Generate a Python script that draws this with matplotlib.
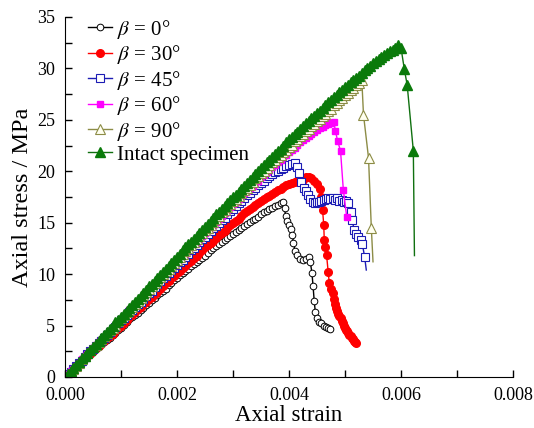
import matplotlib.pyplot as plt

plt.rcParams['font.family'] = ['Liberation Serif', 'DejaVu Serif']
plt.rcParams['mathtext.fontset'] = 'stix'

# strain grid for the loading (pre-peak) branch, shared by all curves
strain_rise = [0.00000, 0.00005, 0.00010, 0.00015, 0.00020, 0.00025, 0.00030, 0.00035, 0.00040, 0.00045,
               0.00050, 0.00055, 0.00060, 0.00065, 0.00070, 0.00075, 0.00080, 0.00085, 0.00090, 0.00095,
               0.00100, 0.00105, 0.00110, 0.00115, 0.00120, 0.00125, 0.00130, 0.00135, 0.00140, 0.00145,
               0.00150, 0.00155, 0.00160, 0.00165, 0.00170, 0.00175, 0.00180, 0.00185, 0.00190, 0.00195,
               0.00200, 0.00205, 0.00210, 0.00215, 0.00220, 0.00225, 0.00230, 0.00235, 0.00240, 0.00245,
               0.00250, 0.00255, 0.00260, 0.00265, 0.00270, 0.00275, 0.00280, 0.00285, 0.00290, 0.00295,
               0.00300, 0.00305, 0.00310, 0.00315, 0.00320, 0.00325, 0.00330, 0.00335, 0.00340, 0.00345,
               0.00350, 0.00355, 0.00360, 0.00365, 0.00370, 0.00375, 0.00380, 0.00385, 0.00390, 0.00395,
               0.00400, 0.00405, 0.00410, 0.00415, 0.00420, 0.00425, 0.00430, 0.00435, 0.00440, 0.00445,
               0.00450, 0.00455, 0.00460, 0.00465, 0.00470, 0.00475, 0.00480, 0.00485, 0.00490, 0.00495,
               0.00500, 0.00505, 0.00510, 0.00515, 0.00520, 0.00525, 0.00530, 0.00535, 0.00540, 0.00545,
               0.00550, 0.00555, 0.00560, 0.00565, 0.00570, 0.00575, 0.00580, 0.00585, 0.00590, 0.00595]

# beta = 0
rise_0 = [0.0, 0.2, 0.5, 0.7, 1.0, 1.2, 1.4, 1.7, 1.9, 2.2,
          2.4, 2.7, 2.9, 3.2, 3.4, 3.6, 3.8, 4.1, 4.3, 4.6,
          4.8, 5.1, 5.3, 5.6, 5.8, 6.0, 6.2, 6.5, 6.7, 7.0,
          7.2, 7.5, 7.7, 8.0, 8.2, 8.4, 8.6, 8.9, 9.1, 9.4,
          9.6, 9.9, 10.1, 10.3, 10.5, 10.8, 11.0, 11.2, 11.4, 11.6,
          11.8, 12.1, 12.3, 12.5, 12.7, 12.9, 13.1, 13.3, 13.5, 13.7,
          13.9, 14.1, 14.3, 14.5, 14.7, 14.9, 15.1, 15.3, 15.4, 15.6,
          15.8, 16.0, 16.1, 16.3, 16.4, 16.6, 16.7, 16.9, 17.0]
post_x_0 = [0.00392, 0.00394, 0.00397, 0.00400, 0.00403, 0.00406, 0.00408, 0.00411, 0.00415, 0.00420,
            0.00425, 0.00430, 0.00435, 0.00438, 0.00441, 0.00443, 0.00445, 0.00447, 0.00450, 0.00454,
            0.00458, 0.00462, 0.00466, 0.00470, 0.00473]
post_y_0 = [16.4, 15.7, 15.2, 14.8, 14.4, 13.8, 13.0, 12.2, 11.9, 11.5,
            11.4, 11.5, 11.7, 11.2, 10.1, 8.8, 7.4, 6.3, 5.7, 5.3,
            5.2, 5.0, 4.9, 4.8, 4.7]

# beta = 30
rise_30 = [0.0, 0.2, 0.5, 0.8, 1.0, 1.2, 1.5, 1.8, 2.0, 2.2,
           2.5, 2.8, 3.0, 3.2, 3.5, 3.8, 4.0, 4.2, 4.5, 4.8,
           5.0, 5.2, 5.5, 5.8, 6.0, 6.3, 6.6, 6.8, 7.1, 7.3,
           7.6, 7.8, 8.1, 8.3, 8.6, 8.8, 9.1, 9.3, 9.6, 9.8,
           10.1, 10.3, 10.6, 10.8, 11.1, 11.3, 11.6, 11.8, 12.1, 12.3,
           12.6, 12.8, 13.0, 13.2, 13.5, 13.8, 14.0, 14.2, 14.5, 14.8,
           15.0, 15.2, 15.4, 15.7, 15.9, 16.1, 16.3, 16.5, 16.7, 16.9,
           17.1, 17.3, 17.5, 17.6, 17.8, 18.0, 18.2, 18.3, 18.5, 18.7,
           18.8, 18.9, 19.0, 19.1, 19.1]
post_x_30 = [0.00425, 0.00430, 0.00435, 0.00440, 0.00445, 0.00450, 0.00455, 0.00458, 0.00460, 0.00462,
             0.00463, 0.00465, 0.00467, 0.00470, 0.00472, 0.00475, 0.00478, 0.00480, 0.00482, 0.00484,
             0.00486, 0.00488, 0.00490, 0.00492, 0.00494, 0.00496, 0.00498, 0.00500, 0.00502, 0.00504,
             0.00506, 0.00508, 0.00510, 0.00512, 0.00514, 0.00516, 0.00518, 0.00520]
post_y_30 = [19.2, 19.4, 19.4, 19.3, 19.1, 18.8, 18.3, 17.5, 16.2, 14.8,
             13.3, 12.6, 11.9, 10.2, 9.1, 8.6, 8.2, 7.6, 7.1, 6.7,
             6.4, 6.1, 5.9, 5.7, 5.4, 5.2, 5.0, 4.8, 4.6, 4.5,
             4.3, 4.1, 4.0, 3.8, 3.7, 3.5, 3.4, 3.3]

# beta = 45
rise_45 = [0.0, 0.3, 0.5, 0.8, 1.1, 1.4, 1.6, 1.9, 2.2, 2.5,
           2.7, 3.0, 3.3, 3.5, 3.8, 4.1, 4.4, 4.7, 4.9, 5.2,
           5.5, 5.7, 6.0, 6.3, 6.5, 6.8, 7.1, 7.3, 7.6, 7.9,
           8.2, 8.4, 8.7, 9.0, 9.3, 9.6, 9.8, 10.1, 10.4, 10.6,
           10.9, 11.2, 11.4, 11.7, 12.0, 12.3, 12.5, 12.8, 13.1, 13.4,
           13.6, 13.9, 14.2, 14.5, 14.7, 15.0, 15.3, 15.5, 15.8, 16.1,
           16.3, 16.6, 16.9, 17.1, 17.4, 17.7, 17.9, 18.2, 18.4, 18.7,
           18.9, 19.1, 19.3, 19.5, 19.7, 19.9, 20.0, 20.2, 20.3, 20.5,
           20.6, 20.7, 20.8]
post_x_45 = [0.00415, 0.00418, 0.00422, 0.00426, 0.00430, 0.00434, 0.00438, 0.00442, 0.00446, 0.00450,
             0.00454, 0.00458, 0.00462, 0.00466, 0.00470, 0.00474, 0.00478, 0.00482, 0.00486, 0.00490,
             0.00494, 0.00498, 0.00502, 0.00506, 0.00510, 0.00513, 0.00516, 0.00520, 0.00524, 0.00528,
             0.00531, 0.00535, 0.00538]
post_y_45 = [20.4, 19.8, 19.0, 18.4, 18.1, 17.7, 17.3, 17.0, 16.9, 17.0,
             17.0, 17.1, 17.2, 17.3, 17.4, 17.3, 17.4, 17.2, 17.4, 17.1,
             17.2, 17.0, 17.1, 16.9, 16.0, 15.3, 14.3, 13.9, 13.6, 13.3,
             12.9, 11.7, 10.4]

# beta = 60
rise_60 = [0.0, 0.3, 0.6, 0.8, 1.1, 1.4, 1.7, 2.0, 2.2, 2.5,
           2.8, 3.1, 3.4, 3.6, 3.9, 4.2, 4.5, 4.8, 5.0, 5.3,
           5.6, 5.9, 6.2, 6.5, 6.7, 7.0, 7.3, 7.5, 7.8, 8.1,
           8.4, 8.7, 9.0, 9.2, 9.5, 9.8, 10.1, 10.3, 10.6, 10.9,
           11.2, 11.5, 11.8, 12.0, 12.3, 12.6, 12.9, 13.1, 13.4, 13.7,
           14.0, 14.3, 14.6, 14.8, 15.1, 15.4, 15.7, 15.9, 16.2, 16.5,
           16.8, 17.0, 17.3, 17.6, 17.9, 18.1, 18.4, 18.6, 18.9, 19.1,
           19.4, 19.6, 19.9, 20.1, 20.4, 20.6, 20.9, 21.1, 21.4, 21.6,
           21.9, 22.1, 22.3, 22.6, 22.8, 23.0, 23.2, 23.4, 23.6, 23.8,
           24.0, 24.2, 24.3, 24.5, 24.6, 24.7, 24.8]
post_x_60 = [0.00483, 0.00487, 0.00492, 0.00497, 0.00503]
post_y_60 = [23.9, 22.9, 22.0, 18.2, 15.6]

# beta = 90
rise_90 = [0.0, 0.3, 0.6, 0.8, 1.1, 1.4, 1.7, 2.0, 2.3, 2.6,
           2.9, 3.1, 3.4, 3.7, 4.0, 4.3, 4.6, 4.8, 5.1, 5.4,
           5.7, 6.0, 6.3, 6.5, 6.8, 7.1, 7.4, 7.7, 8.0, 8.3,
           8.6, 8.8, 9.1, 9.4, 9.7, 10.0, 10.3, 10.5, 10.8, 11.1,
           11.4, 11.7, 12.0, 12.2, 12.5, 12.8, 13.1, 13.4, 13.7, 14.0,
           14.3, 14.5, 14.8, 15.1, 15.4, 15.7, 16.0, 16.2, 16.5, 16.8,
           17.1, 17.3, 17.6, 17.9, 18.2, 18.4, 18.7, 19.0, 19.3, 19.5,
           19.8, 20.0, 20.3, 20.6, 20.9, 21.1, 21.4, 21.6, 21.9, 22.1,
           22.4, 22.6, 22.9, 23.1, 23.4, 23.6, 23.9, 24.1, 24.4, 24.6,
           24.9, 25.1, 25.4, 25.6, 25.9, 26.1, 26.4, 26.6, 26.9, 27.1,
           27.4, 27.6, 27.9, 28.1, 28.4, 28.6, 28.9]
post_x_90 = [0.00533, 0.00542, 0.00547, 0.00550]
post_y_90 = [25.5, 21.3, 14.5, 11.2]

# intact specimen
rise_in = [0.0, 0.3, 0.6, 0.9, 1.2, 1.5, 1.8, 2.0, 2.3, 2.6,
           2.9, 3.2, 3.5, 3.8, 4.1, 4.4, 4.7, 5.0, 5.3, 5.5,
           5.8, 6.1, 6.4, 6.7, 7.0, 7.3, 7.6, 7.9, 8.2, 8.5,
           8.8, 9.0, 9.3, 9.6, 9.9, 10.2, 10.5, 10.8, 11.1, 11.4,
           11.7, 12.0, 12.3, 12.6, 12.9, 13.1, 13.4, 13.7, 14.0, 14.3,
           14.6, 14.9, 15.2, 15.5, 15.8, 16.0, 16.3, 16.6, 16.9, 17.2,
           17.5, 17.7, 18.0, 18.3, 18.6, 18.9, 19.2, 19.4, 19.7, 20.0,
           20.3, 20.6, 20.9, 21.1, 21.4, 21.7, 22.0, 22.2, 22.5, 22.8,
           23.1, 23.3, 23.6, 23.8, 24.1, 24.4, 24.7, 24.9, 25.2, 25.4,
           25.7, 25.9, 26.2, 26.4, 26.7, 26.9, 27.2, 27.4, 27.7, 27.9,
           28.2, 28.4, 28.7, 28.9, 29.1, 29.3, 29.6, 29.8, 30.0, 30.2,
           30.5, 30.7, 30.9, 31.1, 31.3, 31.5, 31.7, 31.8, 32.0]
post_x_in = [0.00595, 0.00600, 0.00606, 0.00611, 0.00622, 0.00624]
post_y_in = [32.3, 32.0, 29.9, 28.4, 22.0, 11.8]

labels = [r'$\beta$ = 0°', r'$\beta$ = 30°', r'$\beta$ = 45°', r'$\beta$ = 60°',
          r'$\beta$ = 90°', 'Intact specimen']

fig = plt.figure(figsize=(5.34, 4.28), dpi=100)
ax = fig.add_axes([0.1217, 0.1192, 0.839, 0.8411])

def curve(rise, px, py, no_last=False):
    x = strain_rise[:len(rise)] + px
    y = rise + py
    if no_last:
        return x, y, list(range(len(x) - 1))
    return x, y, None

x, y, me = curve(rise_0, post_x_0, post_y_0)
ax.plot(x, y, '-', color='black', lw=1, marker='o', ms=4.8, mfc='white', mec='black', mew=0.7, label=labels[0])
x, y, me = curve(rise_30, post_x_30, post_y_30)
ax.plot(x, y, '-', color='#FF0000', lw=1, marker='o', ms=5.5, mfc='#FF0000', mec='#FF0000', label=labels[1])
x, y, me = curve(rise_45, post_x_45, post_y_45, True)
ax.plot(x, y, '-', color='#1C1CB4', lw=1, marker='s', ms=5.2, mfc='white', mec='#1C1CB4', mew=0.8, markevery=me, label=labels[2])
x, y, me = curve(rise_60, post_x_60, post_y_60)
ax.plot(x, y, '-', color='#FF00FF', lw=1, marker='s', ms=4.8, mfc='#FF00FF', mec='#FF00FF', label=labels[3])
x, y, me = curve(rise_90, post_x_90, post_y_90, True)
ax.plot(x, y, '-', color='#8C8C46', lw=1, marker='^', ms=7, mfc='#FFFFF0', mec='#8C8C46', mew=0.8, markevery=me, label=labels[4])
x, y, me = curve(rise_in, post_x_in, post_y_in, True)
ax.plot(x, y, '-', color='#107010', lw=1, marker='^', ms=7, mfc='#0A7A0A', mec='#0A7A0A', markevery=me, label=labels[5])

ax.set_xlim(0, 0.008)
ax.set_ylim(0, 35)
ax.set_xticks([0.000, 0.002, 0.004, 0.006, 0.008])
ax.set_xticklabels(['0.000', '0.002', '0.004', '0.006', '0.008'])
ax.set_xticks([0.001, 0.003, 0.005, 0.007], minor=True)
ax.set_yticks([0, 5, 10, 15, 20, 25, 30, 35])
ax.set_yticks([2.5, 7.5, 12.5, 17.5, 22.5, 27.5, 32.5], minor=True)
ax.tick_params(which='both', direction='in', length=5, width=1, labelsize=13, pad=7)
ax.spines['top'].set_visible(False)
ax.spines['right'].set_visible(False)
ax.set_xlabel('Axial strain', fontsize=16.5, labelpad=1)
ax.set_ylabel('Axial stress / MPa', fontsize=17.5, labelpad=3)

ax.legend(loc='upper left', frameon=False, fontsize=15, handlelength=1.15, handletextpad=0.25,
          labelspacing=0.12, borderaxespad=0.1, bbox_to_anchor=(0.028, 1.027))

fig.savefig('out.png', dpi=100)
